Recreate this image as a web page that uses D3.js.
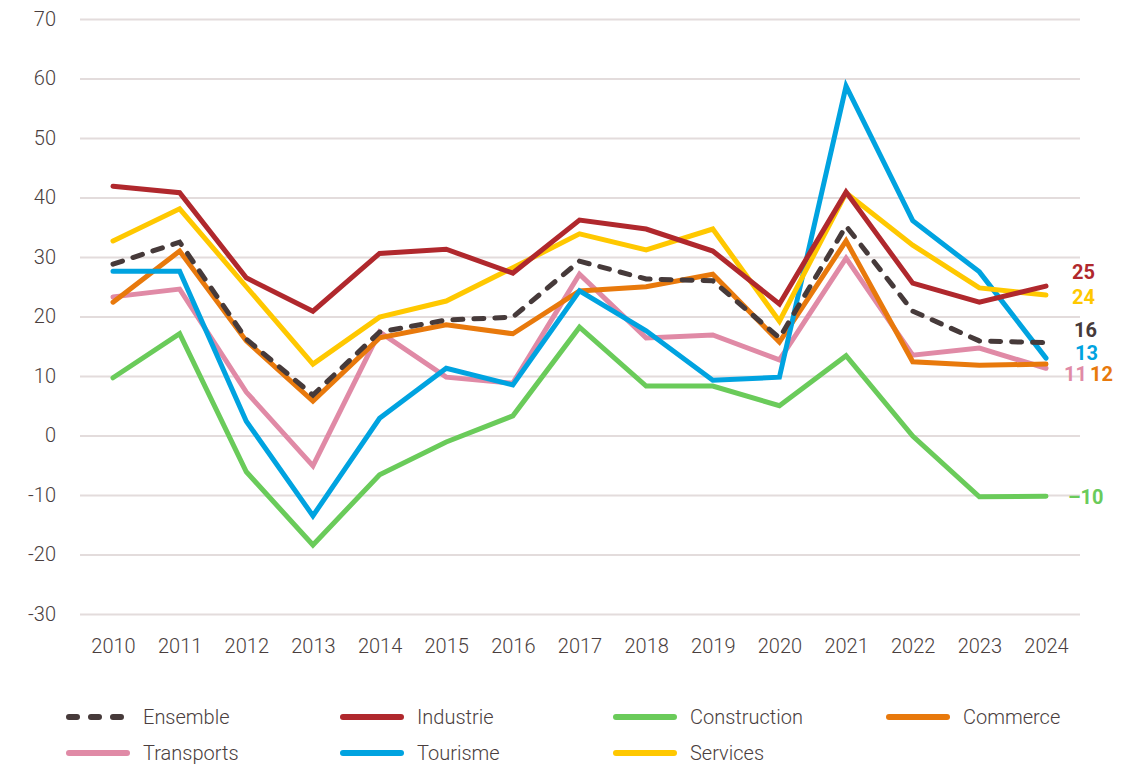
<!DOCTYPE html>
<meta charset="utf-8">
<title>Indicateur par secteur</title>
<style>
  body { margin: 0; background: #fff; }
  text { font-family: Roboto, "Noto Sans", sans-serif; fill: #4a3e3e; }
  .tick text { font-size: 20px; font-weight: 300; }
  .end { font-size: 20px; font-weight: bold; }
  .leg { font-size: 20px; font-weight: 300; }
</style>
<body>
<script src="https://cdn.jsdelivr.net/npm/d3@7"></script>
<script>

// data
var years = [2010, 2011, 2012, 2013, 2014, 2015, 2016, 2017, 2018, 2019, 2020, 2021, 2022, 2023, 2024];
var yTicks = [-30, -20, -10, 0, 10, 20, 30, 40, 50, 60, 70];

var ensemble     = [28.8, 32.5, 16.2, 6.8, 17.4, 19.4, 19.9, 29.3, 26.3, 26.0, 16.4, 35.2, 20.9, 15.9, 15.6];
var industrie    = [41.9, 40.8, 26.5, 20.9, 30.6, 31.3, 27.3, 36.2, 34.7, 31.0, 22.1, 40.9, 25.6, 22.4, 25.1];
var construction = [9.7, 17.1, -6.1, -18.4, -6.6, -1.1, 3.3, 18.2, 8.3, 8.3, 5.0, 13.4, -0.1, -10.3, -10.2];
var commerce     = [22.4, 31.0, 15.9, 5.8, 16.4, 18.6, 17.1, 24.3, 25.0, 27.1, 15.7, 32.7, 12.4, 11.8, 12.0];
var transports   = [23.3, 24.6, 7.3, -5.1, 17.4, 9.8, 8.8, 27.1, 16.4, 16.9, 12.7, 29.8, 13.5, 14.7, 11.3];
var tourisme     = [27.6, 27.6, 2.4, -13.5, 2.9, 11.3, 8.5, 24.3, 17.6, 9.3, 9.8, 58.7, 36.1, 27.5, 13.0];
var services     = [32.7, 38.1, 25.0, 12.0, 19.9, 22.6, 28.2, 33.9, 31.2, 34.7, 19.2, 40.8, 32.0, 24.8, 23.6];

var endLabels = ["16", "25", "-10", "12", "11", "13", "24"];

var series = [
  {name: "Ensemble", values: ensemble, color: "#463a3a", dash: true},
  {name: "Industrie", values: industrie, color: "#b0282d"},
  {name: "Construction", values: construction, color: "#6acb5a"},
  {name: "Commerce", values: commerce, color: "#e8790c"},
  {name: "Transports", values: transports, color: "#e08aa6"},
  {name: "Tourisme", values: tourisme, color: "#00a3e0"},
  {name: "Services", values: services, color: "#ffc800"}
];
// draw order (back to front)
var drawOrder = ["Construction", "Transports", "Commerce", "Tourisme", "Services", "Industrie", "Ensemble"];

var W = 1132, H = 764;
var margin = {top: 19, right: 52, bottom: 150, left: 80};
var width = W - margin.left - margin.right;
var height = 614 - margin.top;

var x = d3.scalePoint().domain(years).range([33, width - 34]);
var y = d3.scaleLinear().domain([-30, 70]).range([height, 0]);

var svg = d3.select("body").append("svg")
  .attr("width", W)
  .attr("height", H);

var g = svg.append("g")
  .attr("transform", "translate(" + margin.left + "," + margin.top + ")");

// gridlines + y labels
var yAxis = g.append("g")
  .call(d3.axisLeft(y).tickValues(yTicks).tickSize(-width).tickPadding(24).tickFormat(function(d) { return String(d); }));
yAxis.select(".domain").remove();
yAxis.selectAll(".tick line").attr("stroke", "#e3dcdc").attr("stroke-width", 2);
yAxis.selectAll(".tick text").attr("fill", "#4a3e3e").attr("dy", "0.3em");

// x labels
var xAxis = g.append("g")
  .attr("transform", "translate(0," + height + ")")
  .call(d3.axisBottom(x).tickSize(0).tickPadding(25).tickFormat(d3.format("d")));
xAxis.select(".domain").remove();
xAxis.selectAll(".tick text").attr("fill", "#4a3e3e");

var line = d3.line()
  .x(function(d, i) { return x(years[i]); })
  .y(function(d) { return y(d); });

drawOrder.forEach(function(n) {
  var s = series.find(function(d) { return d.name == n; });
  g.append("path")
    .datum(s.values)
    .attr("fill", "none")
    .attr("stroke", s.color)
    .attr("stroke-width", 5)
    .attr("stroke-linejoin", "miter")
    .attr("stroke-linecap", "round")
    .attr("stroke-dasharray", s.dash ? "10,11" : null)
    .attr("d", line);
});

// end labels
var labelX = {"Ensemble": 28, "Industrie": 26, "Construction": 22, "Commerce": 44,
  "Transports": 18, "Tourisme": 29, "Services": 26};
var labelY = {"Ensemble": 330, "Industrie": 272, "Construction": 497, "Commerce": 374,
  "Transports": 374, "Tourisme": 353, "Services": 297};
series.forEach(function(s, i) {
  svg.append("text")
    .attr("class", "end")
    .attr("x", margin.left + x(2024) + labelX[s.name])
    .attr("y", labelY[s.name])
    .attr("dy", "0.36em")
    .style("fill", s.color)
    .text(endLabels[i].replace("-", "\u2013"));
});

// legend
var legX = [66, 340, 613, 886];
var legY = [717, 753];
series.forEach(function(s, i) {
  var col = i % 4, row = Math.floor(i / 4);
  var lg = svg.append("g").attr("transform", "translate(" + legX[col] + "," + legY[row] + ")");
  lg.append("line")
    .attr("x1", 3).attr("x2", 61)
    .attr("stroke", s.color)
    .attr("stroke-width", 6)
    .attr("stroke-linecap", "round")
    .attr("stroke-dasharray", s.dash ? "8,14" : null);
  lg.append("text")
    .attr("class", "leg")
    .attr("x", 77)
    .attr("dy", "0.35em")
    .text(s.name);
});

</script>
</body>
